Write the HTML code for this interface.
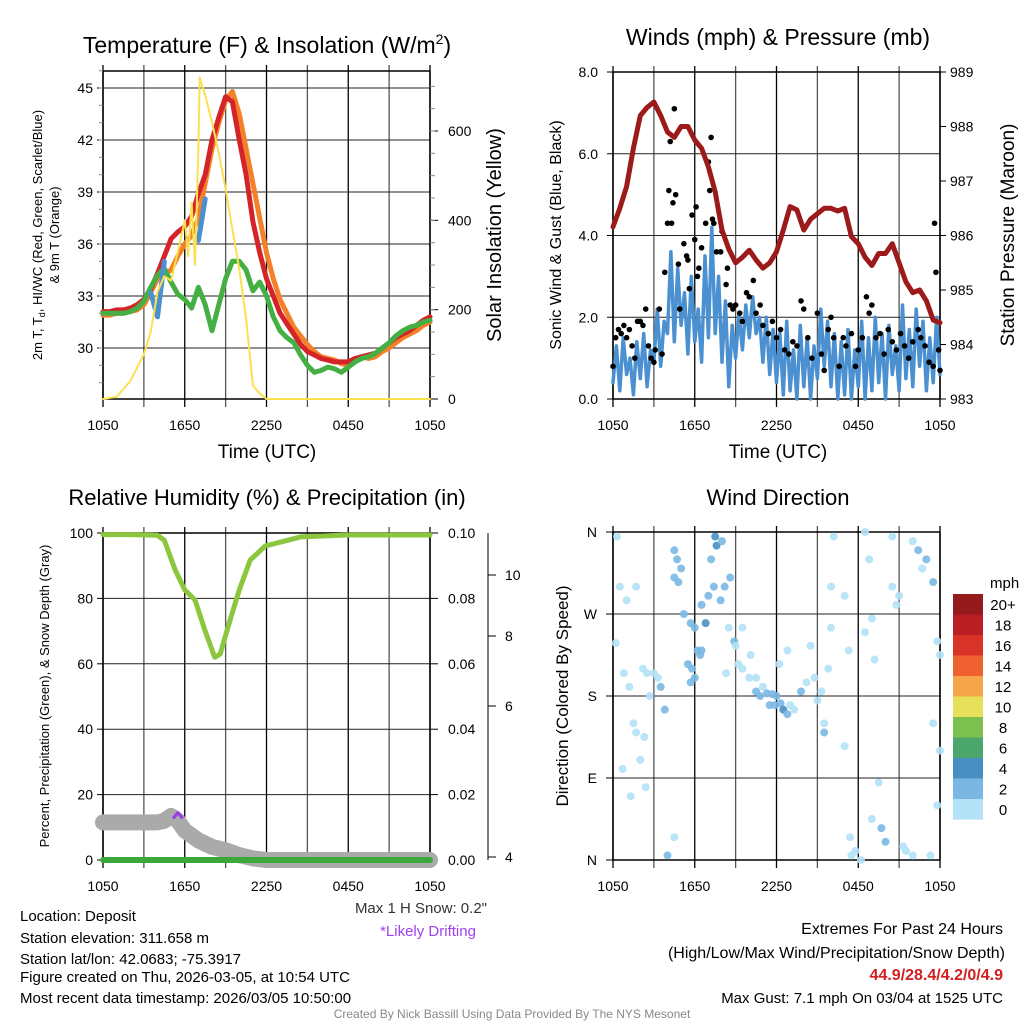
<!DOCTYPE html>
<html><head><meta charset="utf-8"><style>
html,body{margin:0;padding:0;background:#fff}
svg{display:block;font-family:"Liberation Sans",sans-serif}
</style></head><body>
<svg id="c" width="1024" height="1024" viewBox="0 0 1024 1024" xmlns="http://www.w3.org/2000/svg">
<rect width="1024" height="1024" fill="#fff"/>
<g id="g"></g>
<text x="267" y="53" font-size="23" text-anchor="middle">Temperature (F) &amp; Insolation (W/m<tspan dy="-9" font-size="14">2</tspan><tspan dy="9">)</tspan></text>
<text x="778" y="45" font-size="23" text-anchor="middle">Winds (mph) &amp; Pressure (mb)</text>
<text x="267" y="505" font-size="22" text-anchor="middle">Relative Humidity (%) &amp; Precipitation (in)</text>
<text x="778" y="505" font-size="22" text-anchor="middle">Wind Direction</text>
<text x="267" y="458" font-size="19" text-anchor="middle">Time (UTC)</text>
<text x="778" y="458" font-size="19" text-anchor="middle">Time (UTC)</text>
<text transform="translate(42,235) rotate(-90)" font-size="13" text-anchor="middle">2m T, T<tspan dy="3" font-size="9">d</tspan><tspan dy="-3">, HI/WC (Red, Green, Scarlet/Blue)</tspan></text>
<text transform="translate(59,235) rotate(-90)" font-size="13" text-anchor="middle">&amp; 9m T (Orange)</text>
<text transform="translate(501,235) rotate(-90)" font-size="20" text-anchor="middle">Solar Insolation (Yellow)</text>
<text transform="translate(561,235) rotate(-90)" font-size="16" text-anchor="middle">Sonic Wind &amp; Gust (Blue, Black)</text>
<text transform="translate(1014,235) rotate(-90)" font-size="19" text-anchor="middle">Station Pressure (Maroon)</text>
<text transform="translate(49,696) rotate(-90)" font-size="13" text-anchor="middle">Percent, Precipitation (Green), &amp; Snow Depth (Gray)</text>
<text transform="translate(568,696) rotate(-90)" font-size="17" text-anchor="middle">Direction (Colored By Speed)</text>
<g font-size="15">
<text x="20" y="921">Location: Deposit</text>
<text x="20" y="943">Station elevation: 311.658 m</text>
<text x="20" y="964">Station lat/lon: 42.0683; -75.3917</text>
<text x="20" y="982">Figure created on Thu, 2026-03-05, at 10:54 UTC</text>
<text x="20" y="1003">Most recent data timestamp: 2026/03/05 10:50:00</text>
</g>
<text x="487" y="913" font-size="15" text-anchor="end" fill="#333">Max 1 H Snow: 0.2"</text>
<text x="428" y="936" font-size="15" text-anchor="middle" fill="#a040f0">*Likely Drifting</text>
<g font-size="16" text-anchor="end">
<text x="1003" y="934">Extremes For Past 24 Hours</text>
<text x="1005" y="958">(High/Low/Max Wind/Precipitation/Snow Depth)</text>
<text x="1003" y="980" fill="#d02020" font-weight="bold">44.9/28.4/4.2/0/4.9</text>
<text x="1003" y="1003" font-size="15">Max Gust: 7.1 mph On 03/04 at 1525 UTC</text>
</g>
<text x="512" y="1018" font-size="12" text-anchor="middle" fill="#888">Created By Nick Bassill Using Data Provided By The NYS Mesonet</text>
</svg>
<script>
const HH=[0,0.5,1,1.5,2,2.5,3,3.5,4,4.5,5,5.5,6,6.5,7,7.5,8,8.5,9,9.5,10,10.5,11,11.5,12,12.5,13,13.5,14,14.5,15,15.5,16,16.5,17,17.5,18,18.5,19,19.5,20,20.5,21,21.5,22,22.5,23,23.5,24];
const xTickLabels=["1050","1650","2250","0450","1050"];
const tempRed=[32.1,32.1,32.2,32.2,32.3,32.5,32.8,33.4,34.3,35.3,36.3,36.7,37.0,37.6,38.9,40.0,42.0,43.3,44.5,44.2,42.0,40.0,37.3,35.5,34.0,33.0,32.0,31.4,30.8,30.2,29.8,29.6,29.4,29.3,29.2,29.2,29.2,29.4,29.5,29.6,29.7,30.0,30.3,30.6,30.8,31.0,31.3,31.6,31.8];
const temp9m=[31.9,31.9,32.0,32.0,32.1,32.2,32.5,33.2,34.0,34.3,34.5,35.3,36.0,36.5,37.5,39.5,41.5,43.0,44.3,44.8,43.5,41.5,39.5,37.5,35.5,34.0,32.8,32.0,31.2,30.7,30.2,29.8,29.5,29.4,29.3,29.1,29.0,29.3,29.5,29.4,29.5,29.8,30.0,30.3,30.6,30.8,31.0,31.3,31.5];
const tempDew=[32.0,32.0,32.0,32.0,32.1,32.3,32.7,33.5,34.2,34.6,33.8,33.1,32.8,32.3,33.5,32.5,31.0,32.5,34.0,35.0,35.0,34.5,33.3,33.8,33.0,31.8,31.0,30.6,30.3,29.6,29.0,28.6,28.7,28.9,28.8,28.6,28.9,29.2,29.4,29.5,29.7,30.0,30.3,30.7,31.0,31.2,31.3,31.5,31.6];
const tempWC=[null,null,null,null,null,null,null,33.2,31.8,35.0,null,null,null,null,36.2,38.6,null,null,null,null,null,null,null,null,null,null,null,null,null,null,null,null,null,null,null,null,null,null,null,null,null,null,null,null,null,null,null,null,null];
const insHours=[0,1,2,3,3.5,4,4.5,5,5.5,6,6.25,6.5,6.75,7,7.1,7.5,8,8.5,9,9.5,10,10.5,11,11.5,12,13,24];
const insolation=[0,5,40,100,150,240,275,265,330,400,320,440,300,560,720,680,620,550,470,380,290,180,30,12,0,0,0];
const pressure=[986.16,986.5,986.9,987.6,988.2,988.35,988.45,988.2,987.9,987.8,988.0,988.0,987.75,987.6,987.26,986.8,986.1,985.75,985.5,985.6,985.73,985.55,985.4,985.5,985.7,986.1,986.53,986.47,986.1,986.3,986.4,986.5,986.5,986.45,986.5,985.98,985.85,985.6,985.45,985.67,985.67,985.85,985.5,985.15,984.95,985.0,984.8,984.45,984.4];
const windStep=0.25;
const windSpeed=[0.4,1.3,0.2,1.5,0.6,1.0,0.1,1.4,0.5,1.6,0.3,1.2,0.9,
2.2,0.8,1.9,1.6,3.6,1.4,3.2,1.8,
2.6,1.1,3.0,1.4,2.2,0.9,3.5,1.5,
4.2,1.6,3.0,0.9,2.4,0.3,1.8,1.0,
2.1,1.2,2.3,1.5,2.5,1.6,2.0,0.9,
2.0,0.6,1.7,0.4,
1.6,0.1,1.9,0.2,1.2,0.0,1.8,0.3,1.5,0.0,1.3,0.5,
2.2,0.8,1.9,0.3,1.6,0.0,1.4,0.1,1.7,0.0,1.2,0.3,
1.9,0.0,1.5,0.2,2.0,0.4,1.6,0.0,1.8,0.6,1.3,0.2,
2.3,0.5,1.7,0.3,2.2,0.8,1.9,0.2,1.5,0.4,2.0,0.6];
const gustHours=[0,0.2,0.4,0.6,0.8,1.0,1.2,1.4,1.6,1.8,2.0,2.2,2.4,2.6,2.8,3.0,3.1,3.4,3.6,3.8,4.0,4.1,4.2,4.3,4.4,4.5,4.6,4.8,4.9,5.2,5.4,5.5,5.6,5.8,6.0,6.1,6.2,6.3,6.5,6.8,7.0,7.2,7.1,7.3,7.4,7.6,7.9,8.0,8.3,8.4,8.6,8.8,9.0,9.3,9.5,9.8,10.0,10.3,10.5,10.8,11.0,11.4,11.7,12.0,12.3,12.6,12.9,13.2,13.5,13.8,14.0,14.3,14.6,15.0,15.3,15.5,15.8,16.0,16.2,16.6,16.9,17.1,17.5,17.8,18.0,18.3,18.6,18.8,19.0,19.3,19.6,19.9,20.2,20.5,20.8,21.1,21.4,21.7,22.0,22.4,22.6,22.9,23.2,23.5,23.6,23.7,23.9,24.0];
const gustValues=[0.8,1.5,1.7,1.6,1.8,1.5,1.7,1.3,1.0,1.9,1.9,1.8,2.2,1.3,1.0,0.9,1.2,2.2,1.1,3.1,4.3,5.1,6.3,4.3,4.8,7.1,5.0,3.3,2.2,3.8,3.5,3.4,2.7,4.5,3.9,4.7,3.0,3.2,3.7,4.3,5.8,6.4,5.1,4.4,4.3,3.6,3.6,4.1,2.8,3.2,2.3,2.2,2.3,2.1,1.9,2.6,2.5,2.9,2.1,2.3,1.8,1.6,1.9,1.5,1.7,1.2,1.1,1.4,1.3,2.4,2.2,1.5,1.0,2.1,1.1,0.7,1.7,2.0,1.5,0.8,1.5,1.3,1.6,0.8,1.2,1.5,2.5,2.1,2.3,1.5,1.6,1.1,1.7,1.4,1.2,1.6,1.3,1.0,1.4,1.7,1.5,1.3,0.9,0.8,4.3,3.1,1.2,0.7];
const rhHours=[0,2,4,4.5,5.3,6,6.75,7.5,8.2,8.6,9.3,10,10.8,11.9,14.5,18,24];
const rhValues=[99.5,99.5,99.3,97.8,88.7,82.6,79.5,70,62,63,73,82.6,91.7,96,98.8,99.4,99.4];
const snowHours=[0,4,4.5,5,5.5,6,7,8,9,10,11,12,24];
const snowValues=[11.5,11.5,12,13.5,12,9,6,4,3,1.5,0.5,0,0];
const precipHours=[0,24];
const precipValues=[0,0];
const dirH=[0.2,0.3,0.8,1.0,0.5,1.7,1.2,1.5,1.7,0.7,1.3,2.2,2.5,2.7,2.0,2.4,2.3,3.0,3.3,3.5,3.8,4.5,4.0,4.7,4.5,5.0,4.5,4.8,5.2,5.7,6.0,5.5,5.8,6.2,6.4,6.8,6.5,7.0,7.4,7.2,7.6,7.5,8.0,8.2,8.6,7.9,8.5,8.9,9.2,8.3,6.5,6.0,5.7,9.5,10.0,10.5,10.8,11.3,11.7,12.0,12.3,12.5,12.8,13.0,13.3,12.2,12.8,13.8,14.2,14.5,14.8,15.0,15.5,15.5,15.3,16.0,16.2,16.0,15.8,17.0,17.3,17.0,17.4,17.8,17.5,18.2,18.5,18.8,19.0,18.5,19.2,19.0,19.5,19.7,20.0,20.5,20.5,21.0,20.8,21.5,22.0,22.4,22.7,23.0,23.5,23.8,24.0,23.5,23.8,24.0,23.3,22.0,21.3,9.0,9.5,10.1,10.5,11.0,11.5,11.9];
const dirD=[238,355,205,285,300,300,190,150,140,100,70,210,205,180,110,80,135,205,200,190,165,25,5,330,340,320,310,305,270,260,255,215,210,230,225,260,280,290,300,330,345,355,350,300,310,285,255,240,215,205,230,200,195,210,200,185,180,183,182,180,172,165,160,170,165,215,230,185,195,235,200,175,150,140,185,300,355,255,210,290,230,125,25,10,5,0,360,330,265,250,220,45,85,35,20,355,300,290,280,10,350,340,320,330,305,240,120,150,60,225,5,5,15,235,255,225,200,190,170,170];
const dirS=[1,1,1,1,1,1,1,1,1,1,1,1,1,1,1,1,1,1,1,3,3,1,3,3,3,3,3,3,3,3,3,3,3,3,3,4.5,3,3,3,3,4.5,4.5,3,3,3,3,1,3,1,1,3,3,3,1,1,3,3,3,3,3,3,4.5,3,1,1,1,1,3,1,1,1,1,1,3,1,1,1,1,1,1,1,1,1,1,1,1,1,1,1,1,1,1,1,3,3,1,1,1,1,1,1,3,1,3,3,1,1,1,1,1,1,1,1,1,1,1,1,1,3,3];
const legendLabels=["20+","18","16","14","12","10","8","6","4","2","0"];
const legendColors=["#941a1c","#b81e24","#d93328","#ef6130","#f5a64a","#e6e05a","#7cc04d","#4aa66a","#4a8fc4","#7ab8e3","#b3e2f7"];

const NS="http://www.w3.org/2000/svg";
const G=document.getElementById('g');
function mk(tag,attrs,parent){const e=document.createElementNS(NS,tag);for(const k in attrs)e.setAttribute(k,attrs[k]);(parent||G).appendChild(e);return e;}
function lin(d0,d1,r0,r1){return v=>r0+(v-d0)/(d1-d0)*(r1-r0);}
function line(xs,ys,fx,fy,attrs,name){let d="",pen=false;for(let i=0;i<xs.length;i++){if(ys[i]==null){pen=false;continue;}d+=(pen?"L":"M")+fx(xs[i]).toFixed(1)+","+fy(ys[i]).toFixed(1);pen=true;}
 const p=mk('path',Object.assign({d:d,fill:'none','stroke-linejoin':'round','stroke-linecap':'round'},attrs));
 
 return p;}
function txt(x,y,s,attrs,name){const t=mk('text',Object.assign({x:x,y:y,'font-size':14},attrs));t.textContent=s;
 
 return t;}

function panel(x0,x1,y0,y1,hgrid,name){
 const fx=lin(0,24,x0,x1);
 const g=mk('g',{});
 
 
 for(let h=0;h<=24;h+=3){const X=fx(h);mk('line',{x1:X,x2:X,y1:y0-6,y2:y1+8,stroke:(h%6==0)?'#000':'#555','stroke-width':1.3},g);}
 hgrid.forEach(Y=>mk('line',{x1:x0,x2:x1,y1:Y,y2:Y,stroke:'#222','stroke-width':1},g));
 mk('rect',{x:x0,y:y0,width:x1-x0,height:y1-y0,fill:'none',stroke:'#000','stroke-width':1.5},g);
 xTickLabels.forEach((s,i)=>txt(fx(i*6),y1+31,s,{'text-anchor':'middle'},'x-tick-label'));
 return fx;}

// ---- Temperature panel
{
 const fy=lin(30,45,348,88), fi=lin(0,600,399,131);
 const fx=panel(103,430,71,399,[88,140,192,244,296,348],'temperature-panel');
 [45,42,39,36,33,30].forEach(v=>{txt(93,fy(v)+5,String(v),{'text-anchor':'end'},'temp-y-tick');mk('line',{x1:97,x2:103,y1:fy(v),y2:fy(v),stroke:'#000'});});
 for(let v=28;v<=46;v++){mk('line',{x1:99,x2:103,y1:fy(v),y2:fy(v),stroke:'#888'});}
 [0,200,400,600].forEach(v=>{txt(448,fi(v)+5,String(v),{},'insolation-y-tick');mk('line',{x1:430,x2:438,y1:fi(v),y2:fi(v),stroke:'#000'});});
 for(let v=50;v<=700;v+=50){mk('line',{x1:430,x2:435,y1:fi(v),y2:fi(v),stroke:'#888'});}
 line(HH,temp9m,fx,fy,{stroke:'#f4802a','stroke-width':5},'temp-9m-line');
 line(HH,tempRed,fx,fy,{stroke:'#d42428','stroke-width':5},'temp-2m-line');
 line(HH,tempDew,fx,fy,{stroke:'#44b044','stroke-width':5},'dewpoint-line');
 line(HH,tempWC,fx,fy,{stroke:'#4b90d0','stroke-width':5},'windchill-line');
 line(insHours,insolation,fx,fi,{stroke:'#fbe050','stroke-width':2},'insolation-line');
}
// ---- Winds panel
{
 const fy=lin(0,8,399,72), fp=lin(983,989,399,72);
 const fx=panel(613,940,72,399,[153.75,235.5,317.25],'winds-panel');
 ["0.0","2.0","4.0","6.0","8.0"].forEach((s,i)=>{const Y=fy(i*2);txt(598,Y+5,s,{'text-anchor':'end'},'wind-y-tick');mk('line',{x1:607,x2:613,y1:Y,y2:Y,stroke:'#000'});});
 for(let v=983;v<=989;v++){txt(950,fp(v)+5,String(v),{},'pressure-y-tick');mk('line',{x1:940,x2:946,y1:fp(v),y2:fp(v),stroke:'#000'});}
 const wh=windSpeed.map((_,i)=>i*windStep);
 line(wh,windSpeed,fx,fy,{stroke:'#4b90d0','stroke-width':3.5},'sonic-wind-line');
 gustHours.forEach((h,i)=>{const c=mk('circle',{cx:fx(h),cy:fy(gustValues[i]),r:2.8,fill:'#000'});
  
  });
 line(HH,pressure,fx,fp,{stroke:'#9c1a1a','stroke-width':5},'pressure-line');
}
// ---- Humidity panel
{
 const fy=lin(0,100,860,533);
 const fx=panel(103,430,533,860,[533,598.4,663.8,729.2,794.6],'humidity-panel');
 [0,20,40,60,80,100].forEach(v=>{txt(93,fy(v)+5,String(v),{'text-anchor':'end'},'rh-y-tick');mk('line',{x1:97,x2:103,y1:fy(v),y2:fy(v),stroke:'#000'});});
 ["0.00","0.02","0.04","0.06","0.08","0.10"].forEach((s,i)=>{txt(448,fy(i*20)+5,s,{},'precip-y-tick');mk('line',{x1:430,x2:438,y1:fy(i*20),y2:fy(i*20),stroke:'#000'});});
 mk('line',{x1:488,x2:488,y1:533,y2:860,stroke:'#000'});
 [[4,857],[6,706],[8,636],[10,575]].forEach(p=>{txt(505,p[1]+5,String(p[0]),{},'snow-y-tick');mk('line',{x1:488,x2:496,y1:p[1],y2:p[1],stroke:'#000'});});
 line(snowHours,snowValues,fx,fy,{stroke:'#aaaaaa','stroke-width':16},'snow-depth-line');
 line(precipHours,precipValues,fx,fy,{stroke:'#3aa83a','stroke-width':6},'precip-line');
 line(rhHours,rhValues,fx,fy,{stroke:'#8cc63f','stroke-width':5},'rh-line');
 line([5.2,5.5,5.8],[13,14.5,13],fx,fy,{stroke:'#9b3be8','stroke-width':3},'drifting-mark');
}
// ---- Direction panel
{
 const fd=lin(0,360,860,532);
 const fx=panel(613,940,532,860,[614,696,778],'direction-panel');
 ["N","E","S","W","N"].forEach((s,i)=>{const Y=fd(i*90);txt(597,Y+5,s,{'text-anchor':'end'},'direction-y-tick');mk('line',{x1:606,x2:613,y1:Y,y2:Y,stroke:'#000'});});
 function col(s){return s>=4?'#4a8fc4':(s>=2?'#7ab8e3':'#b3e2f7');}
 dirH.forEach((h,i)=>{const c=mk('circle',{cx:fx(h),cy:fd(dirD[i]),r:4,fill:col(dirS[i]),'fill-opacity':0.9});
  
  });
 txt(990,588,"mph",{'text-anchor':'start','font-size':15},'legend-title');
 legendLabels.forEach((s,i)=>{const r=mk('rect',{x:953,y:594+i*20.5,width:30,height:20.6,fill:legendColors[i]});
  
  
  txt(1003,594+i*20.5+16,s,{'text-anchor':'middle','font-size':15},'legend-label');});
}
</script>
</body></html>
